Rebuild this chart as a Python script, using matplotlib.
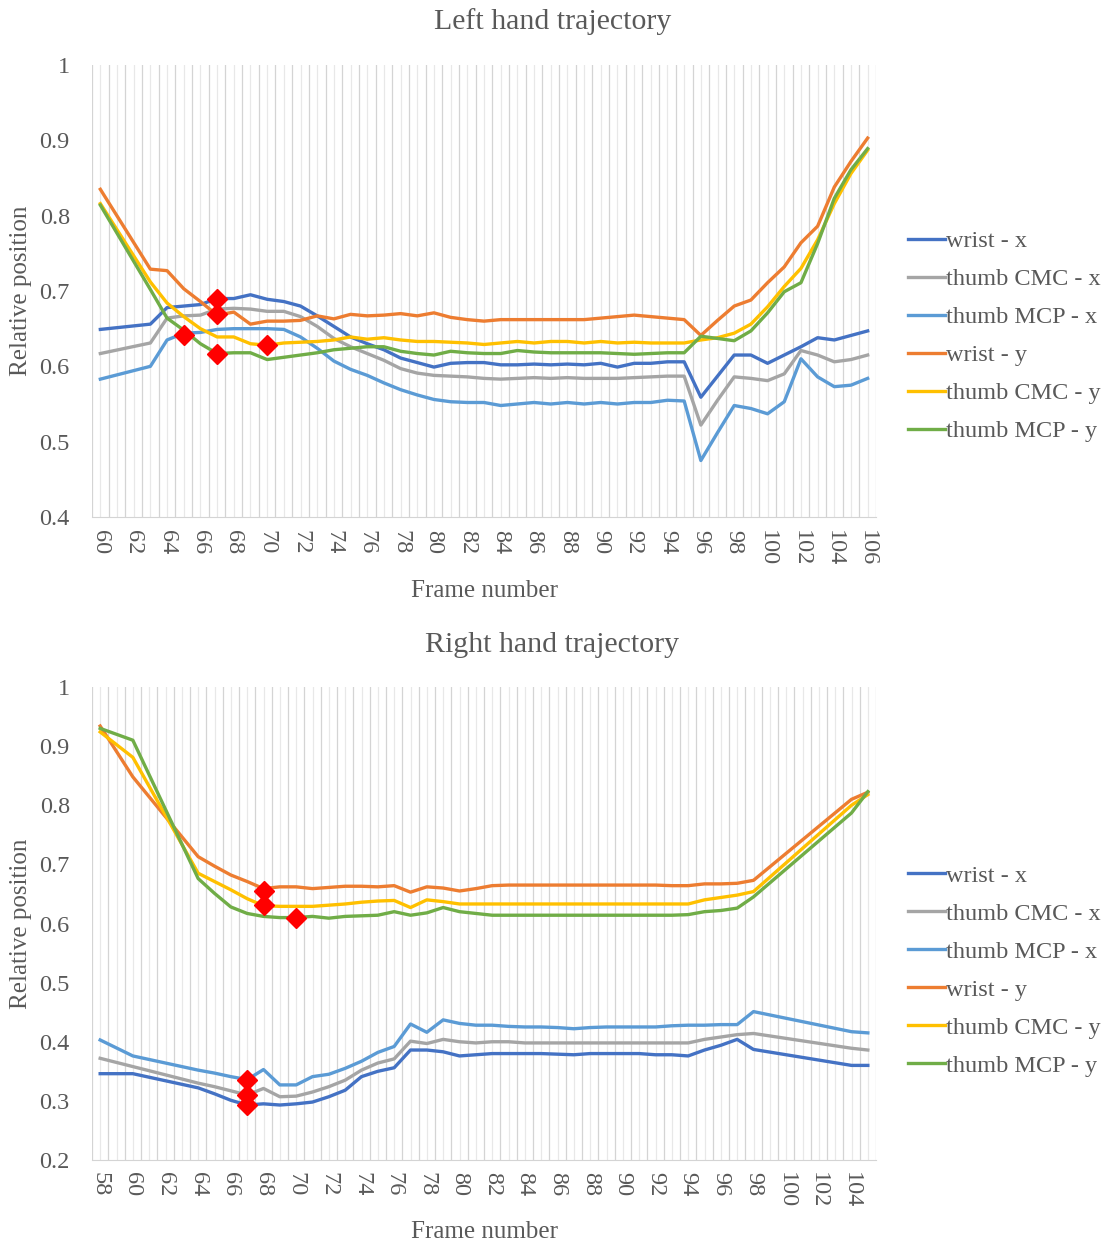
import numpy as np
import matplotlib
matplotlib.use("Agg")
import matplotlib.pyplot as plt

plt.rcParams['font.family'] = ['Liberation Serif', 'DejaVu Serif']

# ---- data: left hand (frames 61, 62 not present) ----
left_frames = [60] + list(range(63, 107))
left_wrist_x = [0.649, 0.656, 0.678, 0.680, 0.682, 0.690, 0.690, 0.695, 0.689, 0.686,
                0.680, 0.667, 0.653, 0.639, 0.630, 0.622, 0.611, 0.605, 0.599, 0.604,
                0.605, 0.605, 0.602, 0.602, 0.603, 0.602, 0.603, 0.602, 0.604, 0.599,
                0.604, 0.604, 0.606, 0.606, 0.559, 0.587, 0.615, 0.615, 0.604, 0.615,
                0.626, 0.638, 0.635, 0.641, 0.647]
left_cmc_x = [0.617, 0.631, 0.664, 0.667, 0.668, 0.676, 0.677, 0.676, 0.673, 0.673,
              0.666, 0.653, 0.637, 0.626, 0.617, 0.608, 0.597, 0.591, 0.588, 0.587,
              0.586, 0.584, 0.583, 0.584, 0.585, 0.584, 0.585, 0.584, 0.584, 0.584,
              0.585, 0.586, 0.587, 0.587, 0.522, 0.555, 0.586, 0.584, 0.581, 0.590,
              0.621, 0.615, 0.606, 0.609, 0.615]
left_mcp_x = [0.583, 0.600, 0.635, 0.644, 0.645, 0.649, 0.650, 0.650, 0.650, 0.649,
              0.639, 0.624, 0.607, 0.596, 0.588, 0.578, 0.569, 0.562, 0.556, 0.553,
              0.552, 0.552, 0.548, 0.550, 0.552, 0.550, 0.552, 0.550, 0.552, 0.550,
              0.552, 0.552, 0.555, 0.554, 0.475, 0.512, 0.548, 0.544, 0.537, 0.553,
              0.610, 0.586, 0.573, 0.575, 0.584]
left_wrist_y = [0.835, 0.729, 0.727, 0.703, 0.686, 0.668, 0.672, 0.656, 0.660, 0.660,
                0.661, 0.667, 0.663, 0.669, 0.667, 0.668, 0.670, 0.667, 0.671, 0.665,
                0.662, 0.660, 0.662, 0.662, 0.662, 0.662, 0.662, 0.662, 0.664, 0.666,
                0.668, 0.666, 0.664, 0.662, 0.641, 0.661, 0.680, 0.688, 0.711, 0.732,
                0.764, 0.786, 0.838, 0.872, 0.903]
left_cmc_y = [0.816, 0.712, 0.684, 0.666, 0.650, 0.639, 0.639, 0.630, 0.628, 0.631,
              0.632, 0.633, 0.635, 0.639, 0.636, 0.638, 0.635, 0.633, 0.633, 0.632,
              0.631, 0.629, 0.631, 0.633, 0.631, 0.633, 0.633, 0.631, 0.633, 0.631,
              0.632, 0.631, 0.631, 0.631, 0.635, 0.638, 0.644, 0.656, 0.679, 0.706,
              0.730, 0.768, 0.816, 0.856, 0.887]
left_mcp_y = [0.814, 0.702, 0.664, 0.648, 0.630, 0.617, 0.618, 0.618, 0.609, 0.612,
              0.615, 0.618, 0.622, 0.624, 0.626, 0.626, 0.620, 0.617, 0.615, 0.620,
              0.618, 0.617, 0.617, 0.621, 0.619, 0.618, 0.618, 0.618, 0.618, 0.617,
              0.616, 0.617, 0.618, 0.618, 0.640, 0.637, 0.634, 0.647, 0.671, 0.699,
              0.711, 0.763, 0.823, 0.861, 0.889]
left_mark_f = [65, 67, 67, 67, 70]
left_mark_v = [0.642, 0.690, 0.670, 0.617, 0.628]

# ---- data: right hand (frames 59, 61-63, 99-103 not present) ----
right_frames = [58, 60] + list(range(64, 99)) + [104, 105]
right_wrist_x = [0.346, 0.346, 0.322, 0.312, 0.301, 0.293, 0.295, 0.293, 0.295, 0.298,
                 0.307, 0.318, 0.341, 0.350, 0.356, 0.386, 0.386, 0.383, 0.376, 0.378,
                 0.380, 0.380, 0.380, 0.380, 0.379, 0.378, 0.380, 0.380, 0.380, 0.380,
                 0.378, 0.378, 0.376, 0.386, 0.394, 0.404, 0.387, 0.360, 0.360]
right_cmc_x = [0.372, 0.358, 0.330, 0.324, 0.317, 0.310, 0.321, 0.307, 0.308, 0.315,
               0.324, 0.335, 0.352, 0.364, 0.371, 0.401, 0.397, 0.404, 0.400, 0.398,
               0.400, 0.400, 0.398, 0.398, 0.398, 0.398, 0.398, 0.398, 0.398, 0.398,
               0.398, 0.398, 0.398, 0.404, 0.408, 0.412, 0.414, 0.389, 0.386]
right_mcp_x = [0.403, 0.376, 0.352, 0.347, 0.341, 0.336, 0.353, 0.327, 0.327, 0.341,
               0.345, 0.355, 0.367, 0.382, 0.392, 0.430, 0.416, 0.437, 0.431, 0.428,
               0.428, 0.426, 0.425, 0.425, 0.424, 0.422, 0.424, 0.425, 0.425, 0.425,
               0.425, 0.427, 0.428, 0.428, 0.429, 0.429, 0.451, 0.417, 0.415]
right_wrist_y = [0.934, 0.848, 0.713, 0.697, 0.682, 0.671, 0.659, 0.662, 0.662, 0.659,
                 0.661, 0.663, 0.663, 0.662, 0.664, 0.653, 0.662, 0.660, 0.655, 0.659,
                 0.664, 0.665, 0.665, 0.665, 0.665, 0.665, 0.665, 0.665, 0.665, 0.665,
                 0.665, 0.664, 0.664, 0.667, 0.667, 0.668, 0.673, 0.810, 0.822]
right_cmc_y = [0.924, 0.881, 0.685, 0.671, 0.657, 0.642, 0.630, 0.629, 0.629, 0.629,
               0.631, 0.633, 0.636, 0.638, 0.639, 0.627, 0.640, 0.637, 0.633, 0.633,
               0.633, 0.633, 0.633, 0.633, 0.633, 0.633, 0.633, 0.633, 0.633, 0.633,
               0.633, 0.633, 0.633, 0.640, 0.644, 0.648, 0.654, 0.800, 0.818]
right_mcp_y = [0.930, 0.910, 0.676, 0.651, 0.628, 0.617, 0.612, 0.610, 0.610, 0.612,
               0.609, 0.612, 0.613, 0.614, 0.620, 0.614, 0.618, 0.627, 0.620, 0.617,
               0.614, 0.614, 0.614, 0.614, 0.614, 0.614, 0.614, 0.614, 0.614, 0.614,
               0.614, 0.614, 0.615, 0.620, 0.622, 0.626, 0.645, 0.787, 0.823]
right_mark_f = [67, 67, 67, 68, 68, 70]
right_mark_v = [0.336, 0.310, 0.293, 0.655, 0.632, 0.610]

labels = ['wrist - x', 'thumb CMC - x', 'thumb MCP - x',
          'wrist - y', 'thumb CMC - y', 'thumb MCP - y']
colors = ['#4472C4', '#A5A5A5', '#5B9BD5', '#ED7D31', '#FFC000', '#70AD47']
text_col = '#595959'

W, H = 1105, 1245
fig = plt.figure(figsize=(W / 100, H / 100), dpi=100)


def draw_panel(rect, frames, series, first, last, ymin, mark_f, mark_v, title, title_y, xlab_y):
    ax = fig.add_axes(rect)
    # light vertical grid, two lines per frame
    for k in np.arange(first - 0.5, last + 0.51, 0.5):
        c = '#d4d4d4' if (k * 2) % 2 == 1 else '#e8e8e8'
        ax.axvline(k, color=c, lw=0.9, zorder=0)
    for vals, col, lab in zip(series, colors, labels):
        ax.plot(frames, vals, color=col, lw=2.4, label=lab, zorder=2,
                solid_joinstyle='round')
    ax.plot(mark_f, mark_v, ls='none', marker='D', ms=10, color='#FF0000',
            mec='#FF0000', zorder=4)
    ax.set_xlim(first - 0.5, last + 0.5)
    ax.set_ylim(ymin, 1)
    yt = np.round(np.arange(ymin, 1.001, 0.1), 1)
    ax.set_yticks(yt)
    ax.set_yticklabels(['1' if v == 1 else '%.1f' % v for v in yt])
    xt = list(range(first, last + 1, 2))
    ax.set_xticks(xt)
    ax.set_xticklabels([str(v) for v in xt], rotation=270)
    ax.tick_params(axis='both', length=0, labelsize=17.5, colors=text_col)
    ax.tick_params(axis='x', pad=9)
    ax.tick_params(axis='y', pad=16)
    for s in ['top', 'right', 'left']:
        ax.spines[s].set_visible(False)
    ax.spines['bottom'].set_color('#d4d4d4')
    ax.set_ylabel('Relative position', fontsize=18, color=text_col)
    ax.set_xlabel('Frame number', fontsize=18, color=text_col)
    ax.yaxis.set_label_coords(-0.077, 0.5)
    ax.xaxis.set_label_coords(0.5, xlab_y)
    ax.legend(loc='center left', bbox_to_anchor=(1.013, 0.40), frameon=False,
              fontsize=17.5, handlelength=1.52, handletextpad=0.05,
              labelspacing=0.66, labelcolor=text_col)
    fig.text(0.5, 1 - title_y / H, title, ha='center', va='center',
             fontsize=21.5, color=text_col)
    return ax


left = [left_wrist_x, left_cmc_x, left_mcp_x, left_wrist_y, left_cmc_y, left_mcp_y]
right = [right_wrist_x, right_cmc_x, right_mcp_x, right_wrist_y, right_cmc_y, right_mcp_y]

draw_panel([92 / W, 1 - 517 / H, 784 / W, 452 / H], left_frames, left, 60, 106, 0.4,
           left_mark_f, left_mark_v, 'Left hand trajectory', 22, -0.14)
draw_panel([92 / W, 1 - 1160 / H, 784 / W, 473 / H], right_frames, right, 58, 105, 0.2,
           right_mark_f, right_mark_v, 'Right hand trajectory', 645, -0.13)

fig.savefig('out.png', dpi=100)
